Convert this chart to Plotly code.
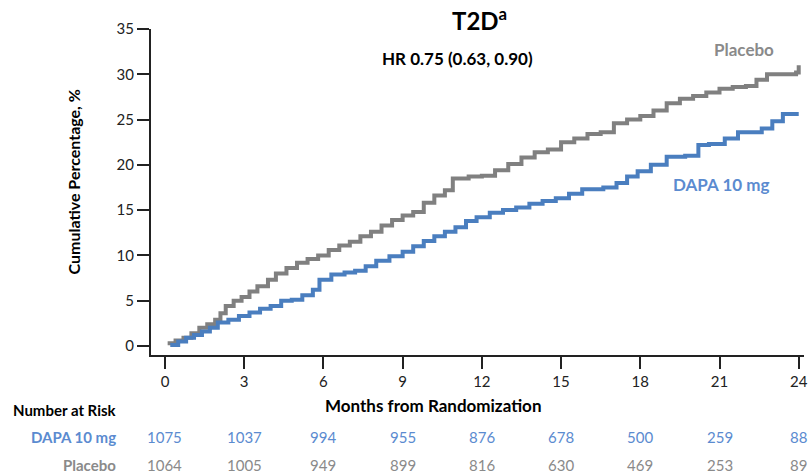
import plotly.graph_objects as go

# Kaplan-Meier style cumulative incidence (%), read as step curves
months_pbo = [0.1, 0.4, 0.7, 1.0, 1.3, 1.6, 1.9, 2.1, 2.3, 2.6, 2.9, 3.2, 3.5, 3.9, 4.2,
              4.6, 5.0, 5.4, 5.8, 6.2, 6.6, 7.0, 7.4, 7.8, 8.2, 8.6, 9.0, 9.4, 9.8, 10.2,
              10.6, 10.9, 11.5, 12.0, 12.5, 13.0, 13.5, 14.0, 14.5, 15.0, 15.5, 16.0, 16.5,
              17.0, 17.5, 18.0, 18.5, 19.0, 19.5, 20.0, 20.5, 21.0, 21.5, 22.0, 22.4, 22.8,
              23.9, 24.0]
pct_pbo = [0.3, 0.6, 0.9, 1.4, 2.0, 2.4, 2.9, 3.6, 4.4, 5.0, 5.4, 6.0, 6.6, 7.3, 8.0,
           8.6, 9.2, 9.6, 10.0, 10.6, 11.1, 11.5, 12.1, 12.6, 13.3, 13.9, 14.4, 14.8, 15.8, 16.6,
           17.2, 18.5, 18.7, 18.8, 19.4, 20.1, 20.8, 21.4, 21.7, 22.5, 22.9, 23.4, 23.6,
           24.6, 25.0, 25.4, 26.0, 26.8, 27.3, 27.6, 28.0, 28.4, 28.6, 28.7, 29.4, 30.0,
           30.2, 31.0]

months_dapa = [0.2, 0.5, 0.8, 1.1, 1.4, 1.7, 2.0, 2.4, 2.8, 3.2, 3.6, 4.0, 4.4, 4.8, 5.2,
               5.6, 5.85, 6.3, 6.8, 7.2, 7.6, 8.0, 8.5, 9.0, 9.4, 9.8, 10.2, 10.6, 11.0, 11.4,
               11.8, 12.3, 12.8, 13.3, 13.8, 14.3, 14.8, 15.3, 15.8, 16.6, 17.1, 17.5, 17.9,
               18.4, 19.0, 19.7, 20.2, 20.6, 21.2, 21.7, 22.6, 23.0, 23.4, 24.0]
pct_dapa = [0.1, 0.5, 0.9, 1.2, 1.6, 2.0, 2.6, 2.9, 3.3, 3.7, 4.1, 4.4, 5.0, 5.1, 5.6,
            6.2, 7.3, 7.9, 8.1, 8.3, 8.8, 9.4, 9.9, 10.4, 11.0, 11.6, 12.1, 12.6, 13.1, 13.8,
            14.2, 14.7, 15.0, 15.3, 15.7, 16.0, 16.3, 16.8, 17.3, 17.5, 18.0, 18.7, 19.3,
            20.0, 20.9, 21.0, 22.2, 22.3, 22.9, 23.6, 24.0, 24.8, 25.6, 25.6]

# Number at risk table
risk_months = [0, 3, 6, 9, 12, 15, 18, 21, 24]
risk_dapa = [1075, 1037, 994, 955, 876, 678, 500, 259, 88]
risk_pbo = [1064, 1005, 949, 899, 816, 630, 469, 253, 89]

BLUE = "#4a7ebf"
GRAY = "#808080"
BLUE_TXT = "#5b8bd0"
GRAY_TXT = "#8a8a8a"
FONT = "Lato"

fig = go.Figure()
fig.add_trace(go.Scatter(x=months_pbo, y=pct_pbo, mode="lines", line_shape="hv",
                         line=dict(color=GRAY, width=4), showlegend=False))
fig.add_trace(go.Scatter(x=months_dapa, y=pct_dapa, mode="lines", line_shape="hv",
                         line=dict(color=BLUE, width=4), showlegend=False))

fig.update_layout(
    width=812, height=474,
    margin=dict(l=151, r=4, t=29, b=119),
    paper_bgcolor="white", plot_bgcolor="white",
    font=dict(family=FONT, size=15, color="#222222"),
    xaxis=dict(range=[-0.53, 24.2], tickvals=risk_months, ticks="outside", ticklen=12,
               tickwidth=2, tickcolor="#222", showline=True, linecolor="#222", linewidth=2,
               showgrid=False, zeroline=False, tickfont=dict(size=15)),
    yaxis=dict(range=[-1.0, 35], tickvals=[0, 5, 10, 15, 20, 25, 30, 35], ticks="outside",
               ticklen=12, tickwidth=2, tickcolor="#222", showline=True, linecolor="#222",
               linewidth=2, showgrid=False, zeroline=False, tickfont=dict(size=15)),
)


def px_to_paper(px, py):
    return (px - 151) / 657.0, (355 - py) / 326.0


def add_text(text, px, py, size, color, xanchor="center", angle=0):
    x, y = px_to_paper(px, py)
    fig.add_annotation(text=text, x=x, y=y, xref="paper", yref="paper", showarrow=False,
                       xanchor=xanchor, yanchor="middle", textangle=angle,
                       font=dict(size=size, color=color, family=FONT))


add_text("<b>T2D<sup>a</sup></b>", 482, 19, 24, "black")
add_text("<b>HR 0.75 (0.63, 0.90)</b>", 459, 58, 17, "black")
add_text("<b>Placebo</b>", 748, 50, 17, GRAY_TXT)
add_text("<b>DAPA 10 mg</b>", 724, 184, 17, BLUE_TXT)
add_text("<b>Cumulative Percentage, %</b>", 74, 182, 16, "black", angle=-90)
add_text("<b>Months from Randomization</b>", 435, 405, 17, "black")
add_text("<b>Number at Risk</b>", 119, 410, 15, "black", xanchor="right")
add_text("<b>DAPA 10 mg</b>", 118, 437, 15, BLUE_TXT, xanchor="right")
add_text("<b>Placebo</b>", 118, 465, 15, GRAY_TXT, xanchor="right")

_, y_dapa_row = px_to_paper(0, 437)
_, y_pbo_row = px_to_paper(0, 465)
for m, d, p in zip(risk_months, risk_dapa, risk_pbo):
    fig.add_annotation(text=str(d), x=m, y=y_dapa_row, xref="x", yref="paper",
                       showarrow=False, yanchor="middle",
                       font=dict(size=15, color=BLUE_TXT, family=FONT))
    fig.add_annotation(text=str(p), x=m, y=y_pbo_row, xref="x", yref="paper",
                       showarrow=False, yanchor="middle",
                       font=dict(size=15, color=GRAY_TXT, family=FONT))

fig.write_html("out.html")
